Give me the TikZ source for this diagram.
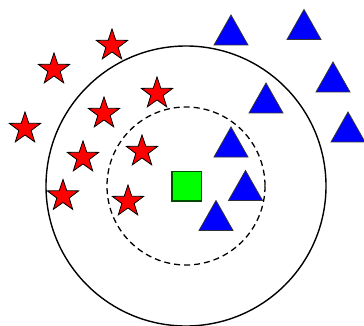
\documentclass[tikz,border=0pt]{standalone}
\begin{document}
\begin{tikzpicture}[x=1pt,y=-1pt,
  redstar/.style={fill=red,draw=black,line width=0.8pt,line join=miter},
  bluetri/.style={fill=blue,draw=black!80,line width=0.8pt,line join=miter},
  outercirc/.style={draw=black,line width=1.4pt},
  innercirc/.style={draw=black,line width=1.3pt,dash pattern=on 6pt off 4pt},
  greensq/.style={fill=green,draw=black!70!green,line width=1.3pt}]
\useasboundingbox (0,0) rectangle (364,326);
\fill[white] (0,0) rectangle (364,326);
% circles
\coordinate (c) at (186,186);
\draw[outercirc] (c) circle[radius=140];
\draw[innercirc] (c) circle[radius=79];
% green square
\draw[greensq] (172,171.5) rectangle (201.5,201);
% stars
\foreach \x/\y in {112/45.5, 54/69.5, 157/93.5, 104/113.5, 25/128.5, 142/151.5, 83/157.5, 63/196, 128/201.5}{
  \draw[redstar,shift={(\x,\y)}] (-90:16.5) -- (-54:6.5) -- (-18:16.5) -- (18:6.5) -- (54:16.5) -- (90:6.5) -- (126:16.5) -- (162:6.5) -- (198:16.5) -- (234:6.5) -- cycle;
}
% triangles (apex positions)
\foreach \x/\y in {231/15, 304/9.5, 333/62, 266/83, 348/112, 231/127, 245.5/170.5, 216/200.5}{
  \draw[bluetri,shift={(\x,\y)}] (0,0) -- (17,30) -- (-17,30) -- cycle;
}
\end{tikzpicture}
\end{document}
